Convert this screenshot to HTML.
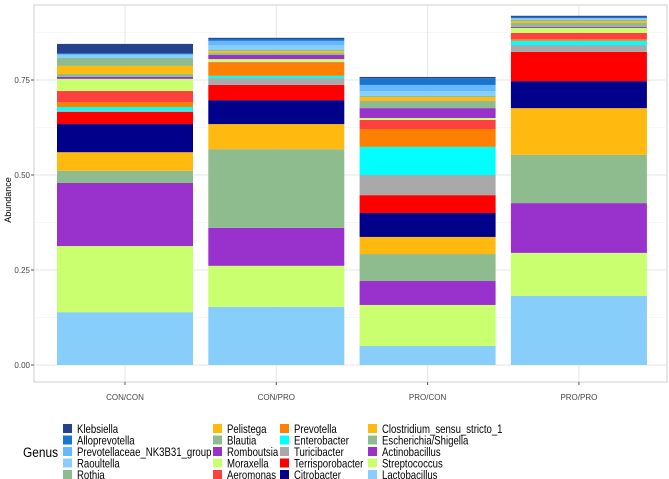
<!DOCTYPE html>
<html><head><meta charset="utf-8"><style>
body{margin:0;background:#fff;font-family:"Liberation Sans",sans-serif;}
svg{display:block}
</style></head><body>
<svg id="chart" width="669" height="479" xmlns="http://www.w3.org/2000/svg"></svg>
<script>
const categories=["CON/CON","CON/PRO","PRO/CON","PRO/PRO"];
const genera=["Lactobacillus","Streptococcus","Actinobacillus","Escherichia/Shigella","Clostridium_sensu_stricto_1","Citrobacter","Terrisporobacter","Turicibacter","Enterobacter","Prevotella","Aeromonas","Moraxella","Romboutsia","Blautia","Pelistega","Rothia","Raoultella","Prevotellaceae_NK3B31_group","Alloprevotella","Klebsiella"];
const Lactobacillus=[.139,.153,.050,.182];
const Streptococcus=[.174,.108,.108,.113];
const Actinobacillus=[.166,.100,.063,.131];
const Escherichia=[.032,.207,.071,.127];
const Clostridium=[.049,.066,.045,.123];
const Citrobacter=[.074,.063,.063,.071];
const Terrisporobacter=[.032,.040,.047,.077];
const Turicibacter=[.003,.018,.053,.018];
const Enterobacter=[.010,.006,.074,.011];
const Prevotella=[.013,.034,.047,.004];
const Aeromonas=[.029,.002,.024,.017];
const Moraxella=[.032,.008,.005,.013];
const Romboutsia=[.005,.011,.026,.003];
const Blautia=[.008,.005,.019,.010];
const Pelistega=[.021,.005,.010,.005];
const Rothia=[.021,.003,.003,.003];
const Raoultella=[.008,.013,.013,.003];
const Prevotellaceae=[.002,.011,.016,.002];
const Alloprevotella=[.003,.005,.018,.003];
const Klebsiella=[.024,.003,.003,.003];
const yTicks=[0,0.25,0.5,0.75];
const yTickLabels=["0.00","0.25","0.50","0.75"];
const series=[Lactobacillus,Streptococcus,Actinobacillus,Escherichia,Clostridium,Citrobacter,Terrisporobacter,Turicibacter,Enterobacter,Prevotella,Aeromonas,Moraxella,Romboutsia,Blautia,Pelistega,Rothia,Raoultella,Prevotellaceae,Alloprevotella,Klebsiella];
const colors=["#87cefa","#caff70","#9932cc","#8fbc8f","#ffb90f","#00008b","#ff0000","#a9a9a9","#00ffff","#ff7f00","#ff4040","#caff70","#9932cc","#8fbc8f","#ffb90f","#8fbc8f","#87cefa","#63b8ff","#1874cd","#27408b"];
const NS="http://www.w3.org/2000/svg";
const svg=document.getElementById('chart');
const PL=34,PR=667,PT=5,PB=382;
const y=v=>365-v*380;
const x=i=>125+i*151.3;
const BW=136;
function mk(t,a,p){const e=document.createElementNS(NS,t);for(const k in a)e.setAttribute(k,a[k]);(p||svg).appendChild(e);return e;}
const panel=mk('rect',{x:PL,y:PT,width:PR-PL,height:PB-PT,fill:'#fff',stroke:'#cfcfcf','stroke-width':1});


for(let v=0.125;v<0.95;v+=0.25){const g=mk('line',{x1:PL,x2:PR,y1:y(v),y2:y(v),stroke:'#f0f0f0','stroke-width':0.6});

}
yTicks.forEach((v,i)=>{const g=mk('line',{x1:PL,x2:PR,y1:y(v),y2:y(v),stroke:'#e6e6e6','stroke-width':1});


const t=mk('text',{x:PL-4,y:y(v)+3,'text-anchor':'end','font-size':8,fill:'#444'});t.textContent=yTickLabels[i];


mk('line',{x1:PL-3,x2:PL,y1:y(v),y2:y(v),stroke:'#555'});});
categories.forEach((c,i)=>{const g=mk('line',{x1:x(i),x2:x(i),y1:PT,y2:PB,stroke:'#e6e6e6','stroke-width':1});


mk('line',{x1:x(i),x2:x(i),y1:PB,y2:PB+3,stroke:'#555'});
const t=mk('text',{x:x(i),y:400,'text-anchor':'middle','font-size':8,fill:'#444'});t.textContent=c;


let cum=0;
series.forEach((s,k)=>{const v=s[i];const r=mk('rect',{x:x(i)-BW/2,y:y(cum+v),width:BW,height:Math.max(0,y(cum)-y(cum+v)),fill:colors[k]});


cum+=v;});
});
const yl=mk('text',{x:0,y:0,transform:'translate(11,200) rotate(-90)','text-anchor':'middle','font-size':9,fill:'#000'});yl.textContent='Abundance';


const gt=mk('text',{x:0,y:0,transform:'translate(23,457) scale(0.85,1)','font-size':14,fill:'#000'});gt.textContent='Genus';


const legendOrder=[19,18,17,16,15,14,13,12,11,10,9,8,7,6,5,4,3,2,1,0];
const colX=[63,213,280,368],rowY=[424,435.5,447,458.5,470];
legendOrder.forEach((k,j)=>{const c=Math.floor(j/5),r=j%5;
const g=mk('g',{});


mk('rect',{x:colX[c],y:rowY[r],width:9,height:9,fill:colors[k]},g);
const t=mk('text',{x:0,y:0,transform:'translate('+(colX[c]+14)+','+(rowY[r]+9)+') scale(0.8,1)','font-size':12,fill:'#000'},g);t.textContent=genera[k];});
</script>
</body></html>
